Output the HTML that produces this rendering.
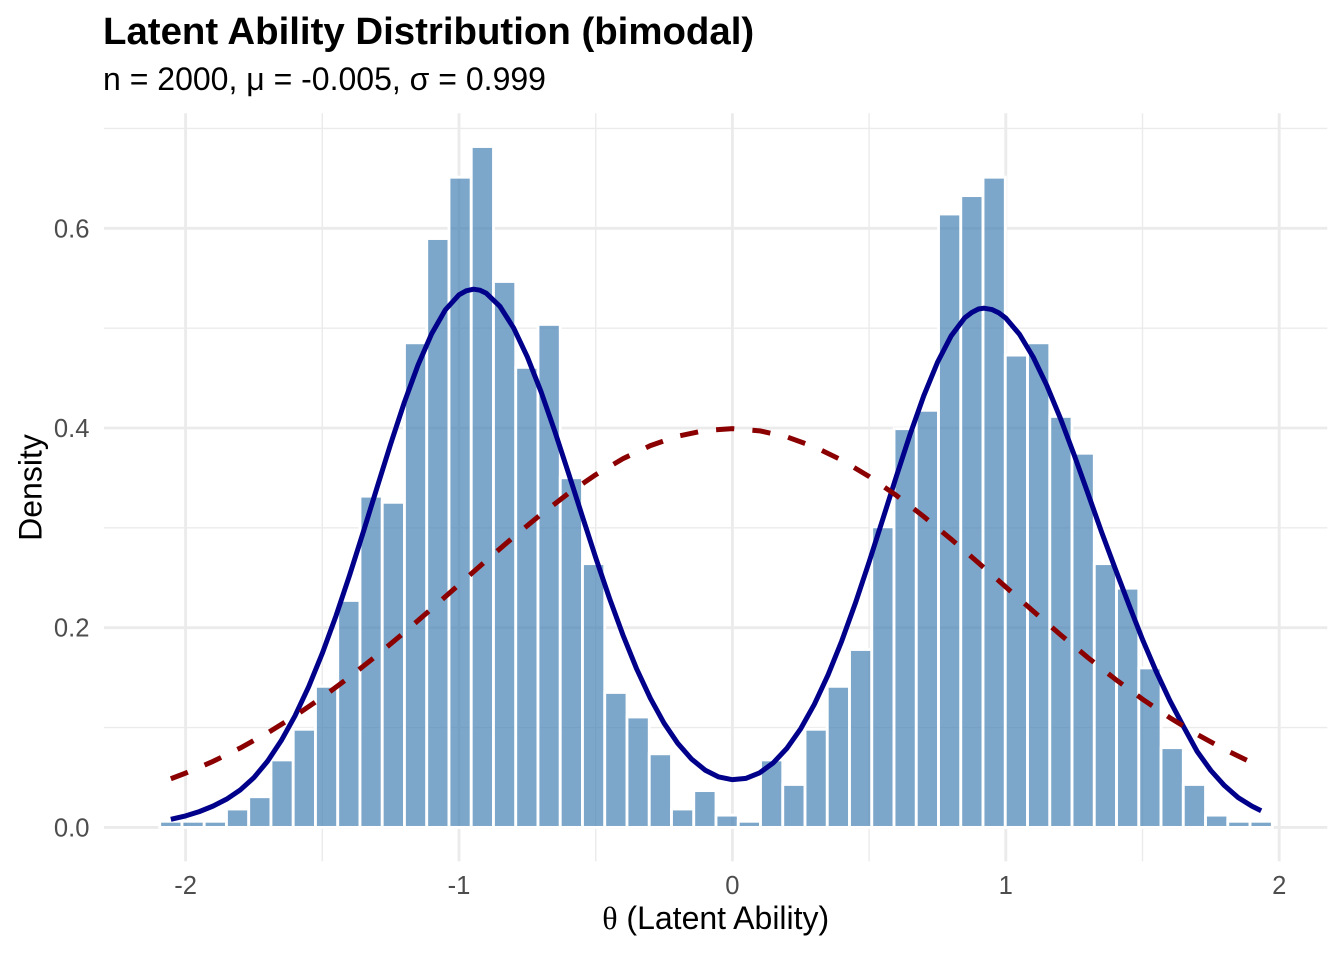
<!DOCTYPE html>
<html>
<head>
<meta charset="utf-8">
<style>
html,body{margin:0;padding:0;background:#fff;}
svg{display:block;}
text{font-family:"Liberation Sans","DejaVu Sans",sans-serif;}
</style>
</head>
<body>
<svg width="1344" height="960" viewBox="0 0 1344 960" xmlns="http://www.w3.org/2000/svg">
<rect x="0" y="0" width="1344" height="960" fill="#ffffff"/>

<g stroke="#EBEBEB" stroke-width="1.42" fill="none">
<line x1="104" y1="727.55" x2="1327.3" y2="727.55"/>
<line x1="104" y1="527.85" x2="1327.3" y2="527.85"/>
<line x1="104" y1="328.15" x2="1327.3" y2="328.15"/>
<line x1="104" y1="128.45" x2="1327.3" y2="128.45"/>
<line x1="322.3" y1="113.3" x2="322.3" y2="861.4"/>
<line x1="595.7" y1="113.3" x2="595.7" y2="861.4"/>
<line x1="869.1" y1="113.3" x2="869.1" y2="861.4"/>
<line x1="1142.5" y1="113.3" x2="1142.5" y2="861.4"/>
</g>
<g stroke="#EBEBEB" stroke-width="2.84" fill="none">
<line x1="104" y1="827.4" x2="1327.3" y2="827.4"/>
<line x1="104" y1="627.7" x2="1327.3" y2="627.7"/>
<line x1="104" y1="428.0" x2="1327.3" y2="428.0"/>
<line x1="104" y1="228.3" x2="1327.3" y2="228.3"/>
<line x1="185.6" y1="113.3" x2="185.6" y2="861.4"/>
<line x1="459.0" y1="113.3" x2="459.0" y2="861.4"/>
<line x1="732.4" y1="113.3" x2="732.4" y2="861.4"/>
<line x1="1005.8" y1="113.3" x2="1005.8" y2="861.4"/>
<line x1="1279.2" y1="113.3" x2="1279.2" y2="861.4"/>
</g>

<g fill="rgba(70,130,180,0.7)" stroke="#ffffff" stroke-width="2.84">
<rect x="159.71" y="821.27" width="22.25" height="6.13"/>
<rect x="181.96" y="821.27" width="22.25" height="6.13"/>
<rect x="204.21" y="821.27" width="22.25" height="6.13"/>
<rect x="226.47" y="809.00" width="22.25" height="18.40"/>
<rect x="248.72" y="796.73" width="22.25" height="30.67"/>
<rect x="270.97" y="759.93" width="22.25" height="67.47"/>
<rect x="293.22" y="729.26" width="22.25" height="98.14"/>
<rect x="315.47" y="686.32" width="22.25" height="141.08"/>
<rect x="337.73" y="600.44" width="22.25" height="226.96"/>
<rect x="359.98" y="496.16" width="22.25" height="331.24"/>
<rect x="382.23" y="502.30" width="22.25" height="325.10"/>
<rect x="404.48" y="342.81" width="22.25" height="484.59"/>
<rect x="426.73" y="238.54" width="22.25" height="588.86"/>
<rect x="448.99" y="177.20" width="22.25" height="650.20"/>
<rect x="471.24" y="146.53" width="22.25" height="680.87"/>
<rect x="493.49" y="281.47" width="22.25" height="545.93"/>
<rect x="515.74" y="367.35" width="22.25" height="460.05"/>
<rect x="537.99" y="324.41" width="22.25" height="502.99"/>
<rect x="560.25" y="477.76" width="22.25" height="349.64"/>
<rect x="582.50" y="563.64" width="22.25" height="263.76"/>
<rect x="604.75" y="692.45" width="22.25" height="134.95"/>
<rect x="627.00" y="716.99" width="22.25" height="110.41"/>
<rect x="649.25" y="753.79" width="22.25" height="73.61"/>
<rect x="671.51" y="809.00" width="22.25" height="18.40"/>
<rect x="693.76" y="790.60" width="22.25" height="36.80"/>
<rect x="716.01" y="815.13" width="22.25" height="12.27"/>
<rect x="738.26" y="821.27" width="22.25" height="6.13"/>
<rect x="760.51" y="759.93" width="22.25" height="67.47"/>
<rect x="782.77" y="784.46" width="22.25" height="42.94"/>
<rect x="805.02" y="729.26" width="22.25" height="98.14"/>
<rect x="827.27" y="686.32" width="22.25" height="141.08"/>
<rect x="849.52" y="649.51" width="22.25" height="177.89"/>
<rect x="871.77" y="526.83" width="22.25" height="300.57"/>
<rect x="894.03" y="428.69" width="22.25" height="398.71"/>
<rect x="916.28" y="410.29" width="22.25" height="417.11"/>
<rect x="938.53" y="214.00" width="22.25" height="613.40"/>
<rect x="960.78" y="195.60" width="22.25" height="631.80"/>
<rect x="983.03" y="177.20" width="22.25" height="650.20"/>
<rect x="1005.29" y="355.08" width="22.25" height="472.32"/>
<rect x="1027.54" y="342.81" width="22.25" height="484.59"/>
<rect x="1049.79" y="416.42" width="22.25" height="410.98"/>
<rect x="1072.04" y="453.23" width="22.25" height="374.17"/>
<rect x="1094.29" y="563.64" width="22.25" height="263.76"/>
<rect x="1116.55" y="588.17" width="22.25" height="239.23"/>
<rect x="1138.80" y="667.92" width="22.25" height="159.48"/>
<rect x="1161.05" y="747.66" width="22.25" height="79.74"/>
<rect x="1183.30" y="784.46" width="22.25" height="42.94"/>
<rect x="1205.55" y="815.13" width="22.25" height="12.27"/>
<rect x="1227.81" y="821.27" width="22.25" height="6.13"/>
<rect x="1250.06" y="821.27" width="22.25" height="6.13"/>
</g>

<polyline fill="none" stroke="#00008B" stroke-width="5" stroke-linejoin="round" stroke-linecap="butt"
points="170.84,819.31 185.60,815.92 199.27,811.62 212.94,806.13 226.61,799.14 240.28,789.96 253.95,777.57 267.62,761.10 281.29,740.53 294.96,715.97 308.63,686.81 322.30,653.36 335.97,615.92 349.64,575.08 363.31,531.94 376.98,487.71 390.65,443.98 404.32,402.44 417.99,365.09 431.66,333.74 445.33,309.88 459.00,294.80 466.2,290.8 473.49,289.21 480.0,290.2 486.34,293.30 500.01,306.48 513.68,328.05 527.35,356.91 541.02,391.65 554.69,430.90 568.36,472.73 582.03,515.37 595.70,557.61 609.37,597.95 623.04,635.29 636.71,669.04 650.38,698.29 664.05,723.16 677.72,743.33 691.39,758.90 705.06,770.09 718.73,776.98 732.40,779.67 746.07,778.37 759.74,772.78 773.41,762.70 787.08,748.12 800.75,728.65 814.42,704.19 828.09,674.83 841.76,640.88 855.43,603.03 869.10,562.00 882.77,519.26 896.44,476.13 910.11,434.29 923.78,395.75 937.45,362.40 951.12,335.94 964.79,317.77 971.6,312.6 978.46,308.98 983.93,308.18 992.13,309.58 998.9,312.9 1005.80,318.16 1019.47,334.24 1033.14,357.01 1046.81,385.46 1060.48,418.51 1074.15,454.86 1087.82,493.10 1101.49,531.84 1115.16,568.5 1128.83,604.5 1142.50,639.5 1156.17,671.5 1169.84,700.59 1183.51,726.55 1197.18,751.51 1210.85,770.49 1224.52,785.66 1238.19,797.64 1251.86,806.13 1261.16,810.73"/>

<polyline fill="none" stroke="#8B0000" stroke-width="5" stroke-dasharray="18.2 18.2" stroke-linejoin="round" stroke-linecap="butt"
points="170.84,778.74 185.60,773.11 212.94,761.43 240.28,748.03 267.62,732.88 294.96,715.94 322.30,697.27 349.64,676.99 376.98,655.29 404.32,632.42 431.66,608.72 459.00,584.58 486.34,560.47 513.68,536.88 541.02,514.36 568.36,493.46 595.70,474.72 623.04,458.64 650.38,445.67 677.72,436.18 705.06,430.46 732.40,428.66 759.74,430.86 787.08,436.97 814.42,446.82 841.76,460.12 869.10,476.49 896.44,495.47 923.78,516.55 951.12,539.20 978.46,562.87 1005.80,587.00 1033.14,611.12 1060.48,634.74 1087.82,657.53 1115.16,679.09 1142.50,699.20 1169.84,717.70 1197.18,734.47 1224.52,749.45 1251.86,762.67 1261.16,766.78"/>

<g fill="#4D4D4D" font-size="25.6" text-anchor="end">
<text x="89.5" y="836.4">0.0</text>
<text x="89.5" y="636.7">0.2</text>
<text x="89.5" y="437.0">0.4</text>
<text x="89.5" y="237.3">0.6</text>
</g>
<g fill="#4D4D4D" font-size="25.6" text-anchor="middle">
<text x="185.6" y="894">-2</text>
<text x="459.0" y="894">-1</text>
<text x="732.4" y="894">0</text>
<text x="1005.8" y="894">1</text>
<text x="1279.2" y="894">2</text>
</g>

<text x="715.7" y="929" font-size="32" fill="#000" text-anchor="middle"><tspan font-family="'Liberation Serif','DejaVu Serif',serif">θ</tspan> (Latent Ability)</text>
<text transform="translate(41.5,487.5) rotate(-90)" font-size="32" fill="#000" text-anchor="middle">Density</text>

<text x="103" y="44" font-size="38.4" font-weight="bold" fill="#000">Latent Ability Distribution (bimodal)</text>
<text x="103" y="90" font-size="32" fill="#000">n = 2000, μ = -0.005, σ = 0.999</text>
</svg>
</body>
</html>
